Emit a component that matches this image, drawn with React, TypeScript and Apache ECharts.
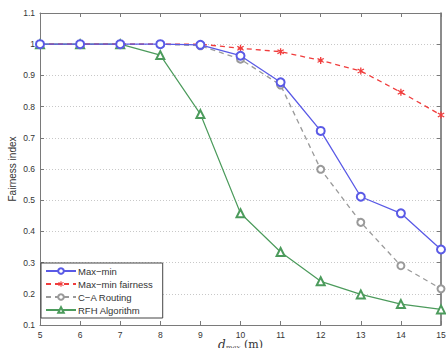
import React, { useEffect, useRef } from "react";
import * as echarts from "echarts";

const distances = [5, 6, 7, 8, 9, 10, 11, 12, 13, 14, 15];
const maxMin = [1, 1, 1, 1, 0.998, 0.963, 0.878, 0.722, 0.511, 0.458, 0.342];
const maxMinFairness = [1, 1, 1, 1, 1, 0.987, 0.976, 0.948, 0.914, 0.846, 0.773];
const caRouting = [1, 1, 1, 1, 0.995, 0.952, 0.869, 0.599, 0.429, 0.29, 0.216];
const rfhAlgorithm = [1, 1, 1, 0.965, 0.776, 0.458, 0.334, 0.24, 0.198, 0.167, 0.15];

const FONT = "Liberation Sans, Arial, Helvetica, sans-serif";
const ASTERISK =
  "path://M4.2,0H5.8V3.1L8.5,1.5L9.3,2.9L6.6,4.5V5.5L9.3,7.1L8.5,8.5L5.8,6.9V10H4.2V6.9L1.5,8.5L0.7,7.1L3.4,5.5V4.5L0.7,2.9L1.5,1.5L4.2,3.1Z";

const pairs = (ys: number[]) => distances.map((x, i) => [x, ys[i]]);

export default function App() {
  const ref = useRef<HTMLDivElement>(null);

  useEffect(() => {
    if (!ref.current) return;
    const chart = echarts.init(ref.current, null, { renderer: "svg" });
    const axisColor = "#7a7a7a";
    const labelStyle = { color: "#333", fontSize: 8.5, fontFamily: FONT };
    chart.setOption({
      animation: false,
      backgroundColor: "#fff",
      grid: { left: 40, right: 5, top: 13, bottom: 23, outerBoundsMode: "none", containLabel: false },
      legend: {
        left: 41,
        top: 263,
        orient: "vertical",
        itemWidth: 30,
        itemHeight: 7,
        itemGap: 3,
        padding: [3, 10, 3, 4],
        borderColor: "#444",
        borderWidth: 1,
        backgroundColor: "#fff",
        textStyle: { fontSize: 9.5, lineHeight: 10, color: "#333", fontFamily: FONT, padding: [0, 0, 0, -3] },
        data: ["Max\u2212min", "Max\u2212min fairness", "C\u2212A Routing", "RFH Algorithm"],
      },
      xAxis: [
        {
          type: "value",
          min: 5,
          max: 15,
          interval: 1,
          name: "{d|d}{sub|max} (m)",
          nameLocation: "middle",
          nameGap: 13,
          nameMoveOverlap: false,
          nameTextStyle: {
            fontSize: 11,
            color: "#333",
            fontFamily: "DejaVu Serif, serif",
            rich: {
              d: { fontStyle: "italic", fontSize: 12, fontFamily: "DejaVu Serif, serif", color: "#333" },
              sub: { fontStyle: "italic", fontSize: 7, verticalAlign: "bottom", padding: [6, 0, 0, 0], fontFamily: "DejaVu Serif, serif", color: "#333" },
            },
          },
          axisLine: { show: true, lineStyle: { color: axisColor, width: 1 } },
          axisTick: { inside: true, length: 4, lineStyle: { color: axisColor } },
          axisLabel: { ...labelStyle, margin: 5 },
          splitLine: { show: false },
        },
        {
          type: "value",
          position: "top",
          min: 5,
          max: 15,
          interval: 1,
          axisLine: { show: true, lineStyle: { color: axisColor, width: 1 } },
          axisTick: { inside: true, length: 4, lineStyle: { color: axisColor } },
          axisLabel: { show: false },
          splitLine: { show: false },
        },
      ],
      yAxis: [
        {
          type: "value",
          min: 0.1,
          max: 1.1,
          interval: 0.1,
          name: "Fairness index",
          nameLocation: "middle",
          nameGap: 23,
          nameMoveOverlap: false,
          nameTextStyle: { fontSize: 10, color: "#333", fontFamily: FONT },
          axisLine: { show: true, lineStyle: { color: axisColor, width: 1 } },
          axisTick: { inside: true, length: 4, lineStyle: { color: axisColor } },
          axisLabel: {
            ...labelStyle,
            margin: 5,
            formatter: (v: number) => (Math.abs(v - 1) < 1e-9 ? "1" : v.toFixed(1)),
          },
          splitLine: { show: true, lineStyle: { color: "#c8c8c8", type: [1, 2], width: 1 } },
        },
        {
          type: "value",
          position: "right",
          min: 0.1,
          max: 1.1,
          interval: 0.1,
          axisLine: { show: true, lineStyle: { color: "#666", width: 1.5 } },
          axisTick: { inside: true, length: 4, lineStyle: { color: axisColor } },
          axisLabel: { show: false },
          splitLine: { show: false },
        },
      ],
      series: [
        {
          name: "RFH Algorithm",
          type: "line",
          data: pairs(rfhAlgorithm),
          symbol: "emptyTriangle",
          symbolSize: 8,
          lineStyle: { color: "#4c9b5c", width: 1.2 },
          itemStyle: { color: "#4c9b5c", borderWidth: 1 },
          z: 2,
        },
        {
          name: "C\u2212A Routing",
          type: "line",
          data: pairs(caRouting),
          symbol: "emptyCircle",
          symbolSize: 7,
          lineStyle: { color: "#9a9a9a", width: 1.3, type: [5, 4] },
          itemStyle: { color: "#9a9a9a", borderWidth: 1 },
          z: 3,
        },
        {
          name: "Max\u2212min fairness",
          type: "line",
          data: pairs(maxMinFairness),
          symbol: ASTERISK,
          symbolSize: 7,
          lineStyle: { color: "#f03c3c", width: 1.3, type: [5, 4] },
          itemStyle: { color: "#f03c3c" },
          z: 4,
        },
        {
          name: "Max\u2212min",
          type: "line",
          data: pairs(maxMin),
          symbol: "emptyCircle",
          symbolSize: 8,
          lineStyle: { color: "#5a5ae6", width: 1.3 },
          itemStyle: { color: "#5a5ae6", borderWidth: 1.1 },
          z: 5,
        },
      ],
    });
    return () => chart.dispose();
  }, []);

  return (
    <div
      ref={ref}
      style={{ position: "fixed", left: 0, top: 0, width: 446, height: 348, background: "#fff" }}
    />
  );
}
